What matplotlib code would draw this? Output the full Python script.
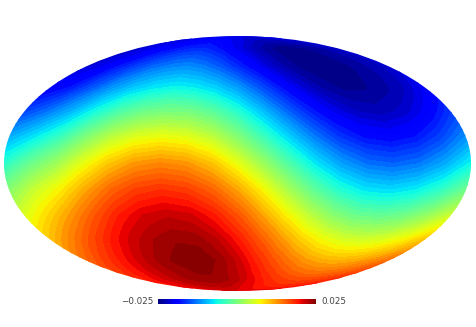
import numpy as np
import matplotlib
matplotlib.use('Agg')
import matplotlib.pyplot as plt
from matplotlib.cm import ScalarMappable
from matplotlib.colors import Normalize

# Map values, in units of 0.001
lons_deg = list(range(-180, 181, 20))
lats_deg = [-90, -75, -60, -45, -30, -15, 0, 15, 30, 45, 60, 75, 90]
south_pole = [20.7] * 19
row_s75 = [18.3, 19.5, 20.6, 21.7, 22.7, 23.3, 23.6, 23.7, 23.2, 22.2, 20.8, 19.3, 18.1, 17.2, 16.6, 16.4, 16.7, 17.3, 18.3]
row_s60 = [14.7, 17.0, 19.0, 21.0, 22.8, 24.0, 24.9, 24.8, 23.6, 21.6, 18.9, 16.5, 14.3, 12.4, 11.3, 11.0, 11.5, 12.8, 14.7]
row_s45 = [10.0, 13.3, 16.4, 19.2, 21.5, 23.0, 23.8, 23.6, 22.0, 19.3, 16.0, 12.6, 9.4, 6.9, 5.3, 4.8, 5.5, 7.3, 10.0]
row_s30 = [5.5, 8.9, 12.4, 15.9, 19.0, 21.0, 21.8, 21.2, 19.2, 16.0, 12.0, 7.8, 4.0, 0.8, -1.2, -1.7, -0.9, 1.4, 4.7]
row_s15 = [0.5, 4.5, 7.6, 11.5, 15.0, 17.2, 18.0, 17.3, 15.2, 11.7, 7.3, 2.6, -1.8, -5.3, -7.5, -8.1, -7.1, -4.7, -1.0]
row_eq = [-5.0, -1.2, 2.0, 6.2, 9.8, 12.3, 13.2, 12.5, 10.2, 6.4, 1.9, -2.9, -7.4, -11.0, -13.3, -14.0, -13.0, -10.4, -6.6]
row_n15 = [-10.2, -7.3, -4.0, 0.2, 3.8, 6.0, 6.8, 6.2, 4.2, 0.6, -3.7, -8.2, -12.5, -16.0, -18.2, -18.9, -17.9, -15.4, -11.7]
row_n30 = [-15.5, -13.0, -9.8, -6.0, -2.8, -0.8, 0.0, -0.3, -2.0, -5.0, -9.0, -13.2, -17.0, -20.0, -21.9, -22.5, -21.6, -19.4, -16.0]
row_n45 = [-19.5, -17.8, -14.6, -11.4, -8.9, -7.3, -6.5, -7.0, -8.5, -11.0, -14.3, -17.7, -20.7, -23.0, -24.2, -24.2, -23.4, -22.0, -19.5]
row_n60 = [-21.5, -20.0, -17.8, -15.6, -13.7, -12.5, -12.0, -12.8, -14.5, -16.8, -19.2, -21.5, -23.4, -24.6, -24.9, -24.6, -23.8, -22.8, -21.5]
row_n75 = [-21.7, -20.8, -19.8, -18.7, -17.8, -17.2, -17.0, -17.8, -19.0, -20.5, -21.8, -23.0, -24.0, -24.5, -24.5, -24.1, -23.6, -22.7, -21.7]
north_pole = [-20.7] * 19
limit_labels = ['\u22120.025', '0.025']
limit_milli = 25.0

values_milli = np.array([south_pole, row_s75, row_s60, row_s45, row_s30, row_s15, row_eq,
                         row_n15, row_n30, row_n45, row_n60, row_n75, north_pole])

W, H = 477, 327
fig = plt.figure(figsize=(W / 100, H / 100), dpi=100, facecolor='white')

ax = fig.add_axes([4 / W, 1 - 291 / H, 467 / W, 255 / H], projection='mollweide')
ax.set_aspect('auto')
lon = np.radians(lons_deg)
lat = np.radians(lats_deg)
lon[0] += 1e-4
lon[-1] -= 1e-4
lat[0] += 1e-4
lat[-1] -= 1e-4
levels = np.linspace(-limit_milli, limit_milli, 51)
ax.contourf(lon, lat, values_milli, levels=levels, cmap='jet',
            vmin=-limit_milli, vmax=limit_milli, antialiased=False, extend='both')
ax.set_axis_off()

cax = fig.add_axes([158 / W, 1 - 304 / H, 158 / W, 5 / H])
cb = fig.colorbar(ScalarMappable(Normalize(-limit_milli, limit_milli), 'jet'),
                  cax=cax, orientation='horizontal')
cb.outline.set_visible(False)
cb.set_ticks([])
fig.text(153.5 / W, 1 - 301.5 / H, limit_labels[0], ha='right', va='center',
         fontsize=6.3, color='#444444')
fig.text(321 / W, 1 - 301.5 / H, limit_labels[1], ha='left', va='center',
         fontsize=6.3, color='#444444')

fig.savefig('out.png', dpi=100, facecolor='white')
